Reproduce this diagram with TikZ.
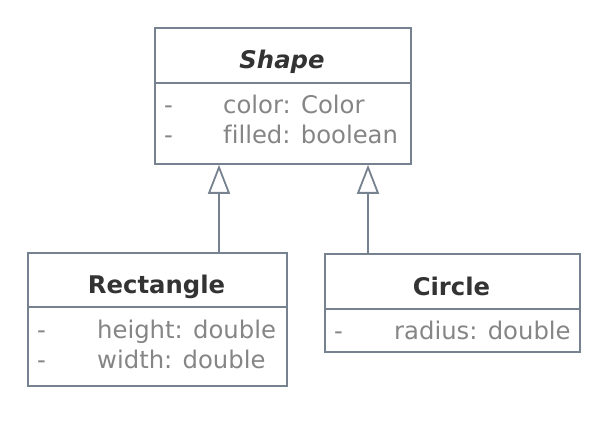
\documentclass[tikz,border=0pt]{standalone}
\usepackage{fontspec}
\setmainfont{DejaVu Sans}[Ligatures=NoCommon]
\usetikzlibrary{arrows.meta}
\definecolor{umlline}{HTML}{76828F}
\definecolor{attrgray}{HTML}{858585}
\definecolor{titledark}{HTML}{333333}
\tikzset{
  umlbox/.style={draw=umlline, line width=1.8pt, fill=white, inner sep=0pt, anchor=north west},
  umltitle/.style={text=titledark, font=\fontsize{24.3}{30}\selectfont\bfseries, inner sep=0pt, anchor=base},
  umlattr/.style={text=attrgray, font=\fontsize{24.3}{30}\selectfont, inner sep=0pt, anchor=base west},
  inherit/.style={draw=umlline, line width=1.8pt,
    -{Triangle[open, length=29pt, width=22pt, fill=white, line width=1.8pt]}}
}
\begin{document}
\begin{tikzpicture}[x=1pt,y=-1pt]
\useasboundingbox (0,0) rectangle (608,433);
% Shape
\node[umlbox, minimum width=256pt, minimum height=55pt] (shapeH) at (154,27) {};
\node[umlbox, minimum width=256pt, minimum height=81pt] (shapeB) at (154,82) {};
\node[umltitle, font=\fontsize{24.3}{30}\selectfont\bfseries\itshape] (shapeT) at (282,69) {Shape};
\node[umlattr] (sd1) at (164,114) {-};
\node[umlattr] (sa1) at (223,114) {color: Color};
\node[umlattr] (sd2) at (164,144) {-};
\node[umlattr] (sa2) at (223,144) {filled: boolean};
% Rectangle
\node[umlbox, minimum width=259pt, minimum height=54pt] (rectH) at (27,252) {};
\node[umlbox, minimum width=259pt, minimum height=79pt] (rectB) at (27,306) {};
\node[umltitle] (rectT) at (156.5,293) {Rectangle};
\node[umlattr] (rd1) at (37,338) {-};
\node[umlattr] (ra1) at (97,338) {height: double};
\node[umlattr] (rd2) at (37,368) {-};
\node[umlattr] (ra2) at (97,368) {width: double};
% Circle
\node[umlbox, minimum width=255pt, minimum height=55pt] (circH) at (324,253) {};
\node[umlbox, minimum width=255pt, minimum height=43pt] (circB) at (324,308) {};
\node[umltitle] (circT) at (451.5,295) {Circle};
\node[umlattr] (cd1) at (334,339) {-};
\node[umlattr] (ca1) at (394,339) {radius: double};
% Inheritance
\path (rectH.north west) ++(192,0) coordinate (rTop);
\path (circH.north west) ++(44,0) coordinate (cTop);
\draw[inherit] (rTop) -- (rTop |- shapeB.south);
\draw[inherit] (cTop) -- (cTop |- shapeB.south);
\end{tikzpicture}
\end{document}
